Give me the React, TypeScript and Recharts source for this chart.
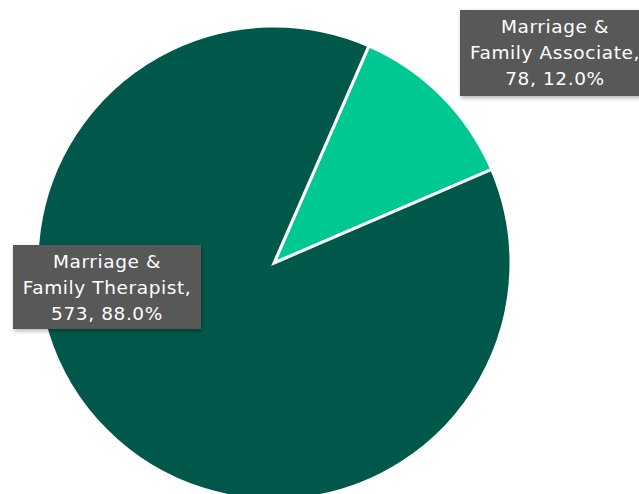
import { PieChart, Pie, Cell } from "recharts";

const categories = ["Marriage & Family Associate", "Marriage & Family Therapist"];
const counts = [78, 573];
const percents = ["12.0%", "88.0%"];
const labelLines = [
  ["Marriage &", "Family Associate,", "78, 12.0%"],
  ["Marriage &", "Family Therapist,", "573, 88.0%"],
];
const colors = ["#00C893", "#00584B"];

const data = categories.map((name, i) => ({ name, value: counts[i], pct: percents[i] }));

// label box placement relative to pie center
const boxes = [
  { dx: 186, dy: -253, w: 190, h: 86 },
  { dx: -261, dy: -18, w: 188, h: 84 },
];

function renderLabel(props: any) {
  const { cx, cy, index } = props;
  const b = boxes[index];
  const x = cx + b.dx;
  const y = cy + b.dy;
  const lines = labelLines[index];
  return (
    <g key={"lbl" + index}>
      <rect x={x} y={y} width={b.w} height={b.h} fill="#595959" filter="url(#shadow)" />
      {lines.map((t, j) => (
        <text
          key={j}
          x={x + b.w / 2}
          y={y + 23 + j * 26}
          textAnchor="middle"
          fill="#ffffff"
          fontSize={18.5}
          letterSpacing={0.6}
          fontFamily="'DejaVu Sans', sans-serif"
        >
          {t}
        </text>
      ))}
    </g>
  );
}

export default function App() {
  return (
    <div style={{ position: "absolute", left: 0, top: 0, background: "#fff" }}>
      <PieChart width={639} height={494} margin={{ top: 0, right: 0, bottom: 0, left: 0 }}>
        <defs>
          <filter id="shadow" x="-10%" y="-10%" width="130%" height="130%">
            <feDropShadow dx="1" dy="2" stdDeviation="2" floodColor="#000" floodOpacity="0.3" />
          </filter>
        </defs>
        <Pie
          data={data}
          dataKey="value"
          nameKey="name"
          cx={274}
          cy={263}
          outerRadius={237}
          startAngle={66.4}
          endAngle={-293.6}
          stroke="#ffffff"
          strokeWidth={3}
          labelLine={false}
          label={renderLabel}
          isAnimationActive={false}
        >
          {data.map((d, i) => (
            <Cell key={d.name} fill={colors[i]} />
          ))}
        </Pie>
      </PieChart>
    </div>
  );
}
